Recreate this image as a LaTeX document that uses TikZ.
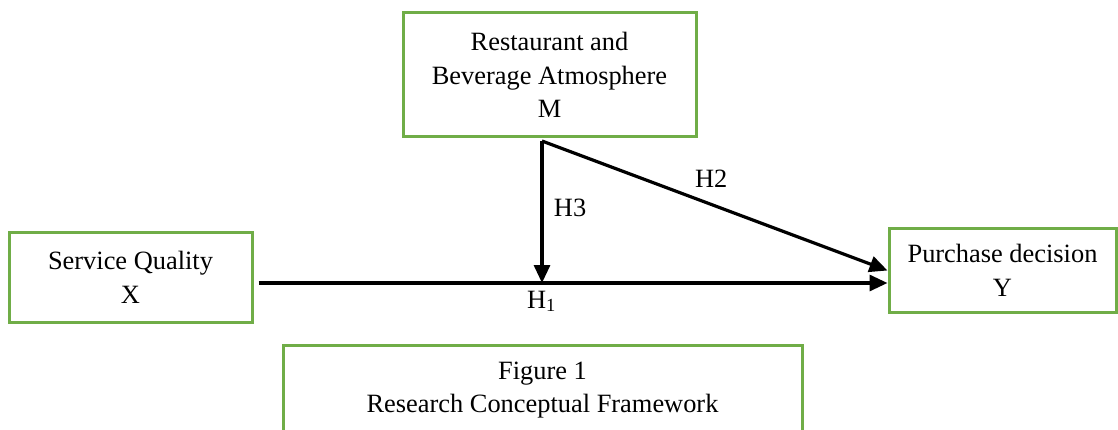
\documentclass[tikz,border=0pt]{standalone}
\usepackage{fontspec}
\setmainfont{Liberation Serif}
\usetikzlibrary{positioning,arrows.meta,quotes}
\definecolor{framegreen}{RGB}{112,173,71}

\begin{document}
\begin{tikzpicture}[x=1pt,y=-1pt,
    font=\fontsize{26.4}{33.5}\selectfont,
    every node/.style={align=center},
    box/.style={draw=framegreen, line width=3pt, inner sep=0pt},
]
\useasboundingbox (0,0) rectangle (1118,430);
\node[box, minimum width=293pt, minimum height=124pt] (m) at (549.5,75)
    {Restaurant and\\Beverage Atmosphere\\M};
\node[box, minimum width=243pt, minimum height=89pt] (x) at (130.5,277.5)
    {Service Quality\\X};
\node[box, minimum width=227pt, minimum height=83pt] (y) at (1002.5,270.5)
    {Purchase decision\\Y};
\node[box, minimum width=519pt, minimum height=90pt] (fig) at (542.5,390)
    {Figure 1\\Research Conceptual Framework};
\coordinate (fork) at (542,141);
\coordinate (h1) at (542,283);
\draw[
    line width=3.2pt,
    every edge/.append style={-{Triangle[length=18pt,width=16pt]}},
    every edge quotes/.style={},
]
(fork) edge["H3" {right=7pt, pos=0.47}] (h1)
       edge["H2" {above=12pt, pos=0.49}] (y.west)
([xshift=5pt]x.east |- h1) edge["{H\textsubscript{1}}" {below=3pt, pos=0.45}] (y.west |- h1)
;
\end{tikzpicture}
\end{document}
